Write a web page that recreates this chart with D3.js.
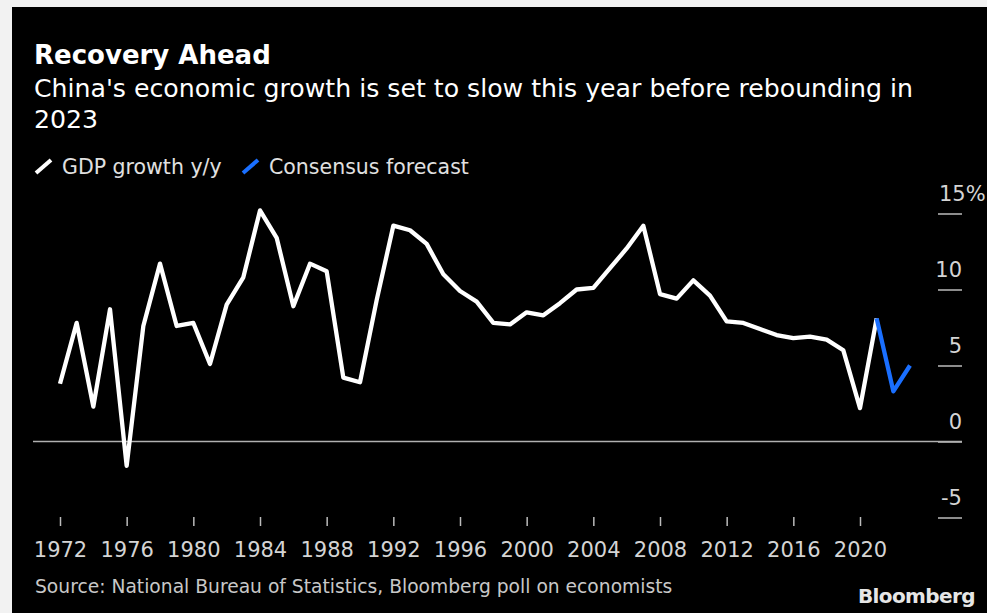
<!DOCTYPE html>
<html>
<head>
<meta charset="utf-8">
<script src="https://cdn.jsdelivr.net/npm/d3@7"></script>
<style>
    html, body { margin: 0; padding: 0; background: #f2f2f2; }
    svg { display: block; }
    text { font-family: "DejaVu Sans", sans-serif; }
</style>
</head>
<body>
<svg id="chart" width="987" height="613"></svg>
<script>
const years = [1972, 1973, 1974, 1975, 1976, 1977, 1978, 1979, 1980, 1981,
    1982, 1983, 1984, 1985, 1986, 1987, 1988, 1989, 1990, 1991,
    1992, 1993, 1994, 1995, 1996, 1997, 1998, 1999, 2000, 2001,
    2002, 2003, 2004, 2005, 2006, 2007, 2008, 2009, 2010, 2011,
    2012, 2013, 2014, 2015, 2016, 2017, 2018, 2019, 2020, 2021];
const gdpGrowth = [3.8, 7.8, 2.3, 8.7, -1.6, 7.6, 11.7, 7.6, 7.8, 5.1,
    9.0, 10.8, 15.2, 13.4, 8.9, 11.7, 11.2, 4.2, 3.9, 9.3,
    14.2, 13.9, 13.0, 11.0, 9.9, 9.2, 7.8, 7.7, 8.5, 8.3,
    9.1, 10.0, 10.1, 11.4, 12.7, 14.2, 9.7, 9.4, 10.6, 9.6,
    7.9, 7.8, 7.4, 7.0, 6.8, 6.9, 6.7, 6.0, 2.2, 8.1];
const forecastYears = [2021, 2022, 2023];
const forecastValues = [8.1, 3.3, 5.0];
const xTickYears = [1972, 1976, 1980, 1984, 1988, 1992, 1996, 2000, 2004, 2008, 2012, 2016, 2020];
const yTickValues = [-5, 0, 5, 10, 15];

const condensed = "'DejaVu Sans Condensed', 'DejaVu Sans', sans-serif";

class LineChart {
    constructor(svg, width = 987, height = 613) {
        this.svg = svg;
        this.width = width;
        this.height = height;
    }

    initialize() {
        this.svg = d3.select(this.svg);

        // black panel, the reference has a light strip left and top
        this.svg.append("rect")
            .attr("x", 12).attr("y", 7)
            .attr("width", this.width - 12).attr("height", this.height - 7)
            .attr("fill", "#000");

        this.xScale = d3.scaleLinear().domain([1972, 2020]).range([60, 860]);
        this.yScale = d3.scaleLinear().domain([-5, 15]).range([517.5, 213.5]);

        this.header = this.svg.append("g");
        this.axes = this.svg.append("g");
        this.container = this.svg.append("g");
        this.footer = this.svg.append("g");
    }

    drawHeader() {
        this.header.append("text")
            .attr("x", 34).attr("y", 64)
            .attr("fill", "#fff")
            .attr("font-size", 26).attr("font-weight", "bold")
            .text("Recovery Ahead");

        this.header.append("text")
            .attr("x", 34).attr("y", 97)
            .attr("fill", "#fff").attr("font-size", 25.2)
            .text("China's economic growth is set to slow this year before rebounding in");

        this.header.append("text")
            .attr("x", 34).attr("y", 128)
            .attr("fill", "#fff").attr("font-size", 25.2)
            .text("2023");

        const items = [
            {label: "GDP growth y/y", color: "#fff", x: 35, tx: 62},
            {label: "Consensus forecast", color: "#1a6fff", x: 242, tx: 269}
        ];
        const legend = this.header.selectAll("g.legend")
            .data(items)
            .join("g").attr("class", "legend");

        legend.append("line")
            .attr("x1", d => d.x + 1).attr("y1", 173)
            .attr("x2", d => d.x + 16).attr("y2", 160)
            .attr("stroke", d => d.color)
            .attr("stroke-width", 4);

        legend.append("text")
            .attr("x", d => d.tx).attr("y", 174)
            .attr("fill", "#e0e0e0").attr("font-size", 20.5)
            .text(d => d.label);
    }

    drawAxes() {
        // x axis: short ticks and year labels
        const xAxis = this.axes.append("g")
            .attr("transform", "translate(0, 517)")
            .call(d3.axisBottom(this.xScale)
                .tickValues(xTickYears)
                .tickFormat(d3.format("d"))
                .tickSize(9));
        xAxis.select(".domain").remove();
        xAxis.selectAll(".tick line").attr("stroke", "#bbb").attr("stroke-width", 1.5);
        xAxis.selectAll(".tick text")
            .attr("fill", "#d4d4d4")
            .attr("font-size", 21)
            .attr("font-family", condensed)
            .attr("dy", null)
            .attr("y", 39.5);

        // y axis on the right, labels sit above the tick lines
        const yAxis = this.axes.append("g")
            .attr("transform", "translate(962, 0)")
            .call(d3.axisLeft(this.yScale)
                .tickValues(yTickValues)
                .tickSize(24)
                .tickFormat(d => String(d)));
        yAxis.select(".domain").remove();
        yAxis.selectAll(".tick line").attr("stroke", "#bbb").attr("stroke-width", 1.5);
        yAxis.selectAll(".tick text")
            .attr("fill", "#d4d4d4")
            .attr("font-size", 21)
            .attr("font-family", condensed)
            .attr("text-anchor", "end")
            .attr("x", 0)
            .attr("dy", null)
            .attr("y", -13.5);
        yAxis.selectAll(".tick text")
            .filter(d => d === 15)
            .attr("text-anchor", "start")
            .attr("x", -23)
            .append("tspan").text("%");

        // zero line
        this.axes.append("line")
            .attr("x1", 33).attr("x2", 962)
            .attr("y1", this.yScale(0)).attr("y2", this.yScale(0))
            .attr("stroke", "#b0b0b0").attr("stroke-width", 1.5);
    }

    update() {
        const line = d3.line()
            .x(d => this.xScale(d.year))
            .y(d => this.yScale(d.value));

        const actual = years.map((y, i) => ({year: y, value: gdpGrowth[i]}));
        const forecast = forecastYears.map((y, i) => ({year: y, value: forecastValues[i]}));

        this.container.selectAll("path")
            .data([
                {points: actual, color: "#fff"},
                {points: forecast, color: "#1a6fff"}
            ])
            .join("path")
            .attr("fill", "none")
            .attr("stroke", d => d.color)
            .attr("stroke-width", 4.3)
            .attr("stroke-linejoin", "round")
            .attr("d", d => line(d.points));
    }

    drawFooter() {
        this.footer.append("text")
            .attr("x", 35).attr("y", 593)
            .attr("fill", "#c8c8c8").attr("font-size", 18.7)
            .text("Source: National Bureau of Statistics, Bloomberg poll on economists");

        this.footer.append("text")
            .attr("x", 975).attr("y", 603)
            .attr("text-anchor", "end")
            .attr("fill", "#e6e6e6")
            .attr("font-family", "'Liberation Sans', Arial, sans-serif")
            .attr("font-weight", "bold")
            .attr("font-size", 20)
            .attr("letter-spacing", -0.6)
            .text("Bloomberg");
    }
}

const chart = new LineChart(document.getElementById("chart"));
chart.initialize();
chart.drawHeader();
chart.drawAxes();
chart.update();
chart.drawFooter();
</script>
</body>
</html>
